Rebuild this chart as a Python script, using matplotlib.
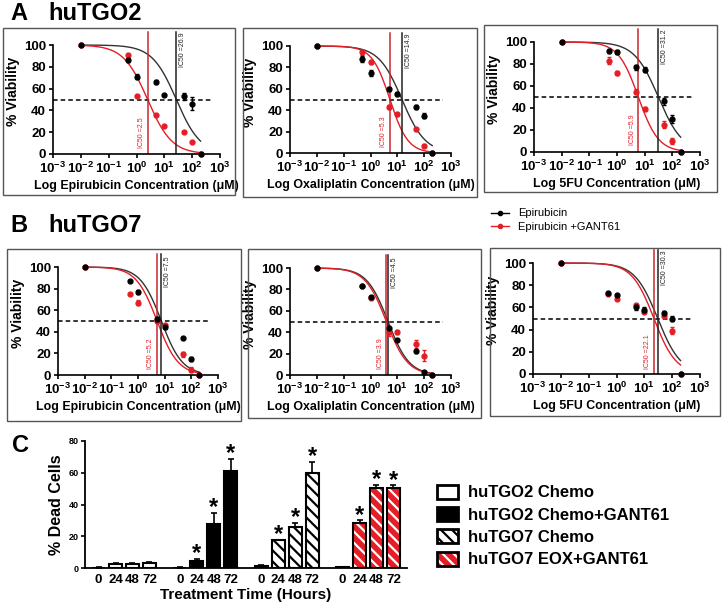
import numpy as np
import matplotlib
matplotlib.use("Agg")
import matplotlib.pyplot as plt
from matplotlib.patches import Rectangle, Patch
from matplotlib.lines import Line2D
from matplotlib.legend_handler import HandlerTuple
from matplotlib.ticker import NullLocator

plt.rcParams["font.family"] = ["Liberation Sans", "DejaVu Sans"]
plt.rcParams["font.weight"] = "bold"
plt.rcParams["axes.labelweight"] = "bold"
plt.rcParams["mathtext.fontset"] = "custom"
for k in ("rm", "it", "bf", "sf"):
    plt.rcParams["mathtext." + k] = "Liberation Sans:bold"
plt.rcParams["hatch.linewidth"] = 1.6

RED = "#e41e26"

# ---- dose response data (A: huTGO2, B: huTGO7) ----
conc = [0.01, 0.5, 1, 5, 10, 50, 100, 200]
drugs = ["Epirubicin", "Oxaliplatin", "5FU"]

a_black = [[100, 86, 71, 66, 54, 53, 46, 0],
           [100, 88, 75, 60, 55, 43, 35, 0],
           [100, 92, 91, 77, 75, 46, 30, 0]]
a_black_err = [[0, 2, 2, 2, 1, 3, 6, 0],
               [0, 3, 3, 2, 2, 2, 2, 0],
               [0, 2, 2, 2, 2, 3, 4, 0]]
a_red = [[100, 91, 53, 36, 26, 20, 11, 0],
         [100, 94, 85, 43, 36, 22, 7, 0],
         [100, 83, 72, 55, 39, 25, 10, 0]]
a_red_err = [[0, 1, 1, 1, 1, 1, 1, 0],
             [0, 2, 2, 2, 1, 1, 1, 0],
             [0, 3, 2, 2, 2, 3, 3, 0]]
a_ic50 = [(26.9, 2.5), (14.9, 5.3), (31.2, 5.9)]
a_hill = [(1.0, 1.0), (1.0, 1.3), (1.0, 1.2)]

b_black = [[100, 87, 77, 52, 44, 34, 15, 0],
           [100, 83, 73, 44, 33, 22, 3, 0],
           [100, 73, 71, 60, 58, 55, 50, 0]]
b_black_err = [[0, 1, 2, 2, 1, 1, 2, 0],
               [0, 1, 1, 1, 1, 1, 1, 0],
               [0, 1, 1, 2, 2, 2, 2, 0]]
b_red = [[100, 75, 67, 50, 46, 19, 5, 0],
         [100, 83, 72, 40, 40, 29, 18, 0],
         [100, 72, 68, 62, 56, 52, 39, 0]]
b_red_err = [[0, 1, 2, 2, 1, 2, 2, 0],
             [0, 1, 1, 4, 2, 4, 5, 0],
             [0, 1, 1, 1, 1, 1, 3, 0]]
b_ic50 = [(7.5, 5.2), (4.5, 3.9), (30.3, 22.1)]
b_hill = [(1.1, 1.1), (1.1, 1.1), (1.05, 1.1)]

# ---- panel C data ----
times = ["0", "24", "48", "72"]
groups = ["huTGO2 Chemo", "huTGO2 Chemo+GANT61", "huTGO7 Chemo", "huTGO7 EOX+GANT61"]
dead = [[0.3, 2.5, 2.5, 3.0],
        [0.3, 4.5, 27.5, 61.0],
        [1.5, 17.5, 26.0, 60.0],
        [0.5, 28.5, 50.5, 50.5]]
dead_err = [[0.1, 0.5, 0.6, 0.5],
            [0.1, 1.2, 7.0, 7.5],
            [0.4, 0.4, 2.5, 7.0],
            [0.1, 1.5, 2.0, 1.5]]
signif = [[0, 0, 0, 0], [0, 1, 1, 1], [0, 1, 1, 1], [0, 1, 1, 1]]

W, H = 725, 609
fig = plt.figure(figsize=(W / 100, H / 100), dpi=100)


def frect(x0, y0, x1, y1):
    return [x0 / W, 1 - y1 / H, (x1 - x0) / W, (y1 - y0) / H]


YTOP = 114


def dose_panel(box, xl, xr, y100, y0, drug, blk, blk_err, red, red_err, ic50, hill):
    fig.add_artist(Rectangle((box[0] / W, 1 - box[3] / H), (box[2] - box[0]) / W,
                             (box[3] - box[1]) / H, transform=fig.transFigure,
                             fill=False, ec="#555555", lw=1))
    ppu = (y0 - y100) / 100
    ax = fig.add_axes(frect(xl, y0 - YTOP * ppu, xr, y0))
    ax.set_xscale("log")
    ax.set_xlim(1e-3, 1e3)
    ax.set_ylim(0, YTOP)
    ax.patch.set_alpha(0)

    xs = np.logspace(-2, np.log10(200), 200)
    for ic, h, col in [(ic50[0], hill[0], "#333333"), (ic50[1], hill[1], RED)]:
        ax.plot(xs, 100 / (1 + (xs / ic) ** h), color=col, lw=1)
    ax.plot([1e-3, 5e2], [50, 50], color="black", lw=1.1, ls=(0, (3, 2)))
    ax.plot([ic50[0]] * 2, [0, 112], color="#222222", lw=1.1)
    ax.plot([ic50[1]] * 2, [0, 112], color="#c8282e", lw=1.1)

    ax.errorbar(conc, red, yerr=red_err, fmt="o", ms=3.5, color=RED,
                capsize=1.5, elinewidth=1, clip_on=False, zorder=4)
    ax.errorbar(conc, blk, yerr=blk_err, fmt="o", ms=3.5, color="black",
                capsize=1.5, elinewidth=1, clip_on=False, zorder=5)

    ax.annotate(f"IC50 ={ic50[1]}", xy=(ic50[1], 20), xytext=(-2, 0),
                textcoords="offset points", rotation=90, ha="right", va="center",
                fontsize=5, color=RED, fontweight="normal")
    ax.annotate(f"IC50 ={ic50[0]}", xy=(ic50[0], 96), xytext=(2, 0),
                textcoords="offset points", rotation=90, ha="left", va="center",
                fontsize=5, color="#222222", fontweight="normal")

    for s in ("top", "right"):
        ax.spines[s].set_visible(False)
    ax.spines["left"].set_bounds(0, 100)
    for s in ("left", "bottom"):
        ax.spines[s].set_linewidth(1.2)
    ax.set_yticks([0, 20, 40, 60, 80, 100])
    ax.set_xticks([10.0 ** k for k in range(-3, 4)])
    ax.set_xticklabels([r"$\mathbf{10^{%d}}$" % k for k in range(-3, 4)])
    ax.xaxis.set_minor_locator(NullLocator())
    ax.tick_params(labelsize=9.5, width=1.2, length=3, pad=2)
    ax.set_ylabel("% Viability", fontsize=10, labelpad=3)
    ax.set_xlabel(f"Log {drug} Concentration (μM)", fontsize=8.9, labelpad=3)


a_layout = [((3, 28, 235, 195), 53, 220, 45, 154),
            ((243, 28, 477, 197), 290, 451, 46, 153),
            ((484, 25, 717, 192), 534, 700, 42, 152)]
b_layout = [((7, 249, 241, 421), 58, 218, 267, 375),
            ((248, 249, 481, 418), 290, 451, 268, 375),
            ((490, 248, 720, 416), 533, 700, 263, 374)]

for i in range(3):
    dose_panel(*a_layout[i], drugs[i], a_black[i], a_black_err[i], a_red[i],
               a_red_err[i], a_ic50[i], a_hill[i])
    dose_panel(*b_layout[i], drugs[i], b_black[i], b_black_err[i], b_red[i],
               b_red_err[i], b_ic50[i], b_hill[i])

fig.text(10 / W, 1 - 14 / H, "A", fontsize=17, va="center")
fig.text(48 / W, 1 - 14 / H, "huTGO2", fontsize=17, va="center")
fig.text(10 / W, 1 - 226 / H, "B", fontsize=17, va="center")
fig.text(48 / W, 1 - 226 / H, "huTGO7", fontsize=17, va="center")
fig.text(12 / W, 1 - 445 / H, "C", fontsize=17, va="center")

fig.legend(handles=[Line2D([], [], color="black", marker="o", ms=3, lw=1),
                    Line2D([], [], color=RED, marker="o", ms=3, lw=1)],
           labels=["Epirubicin", "Epirubicin +GANT61"], loc="upper left",
           bbox_to_anchor=(487 / W, 1 - 204 / H), frameon=False,
           prop={"size": 8, "weight": "normal"}, handlelength=1.6,
           handletextpad=0.8, labelspacing=0.35, borderaxespad=0)

# ---- panel C ----
axc = fig.add_axes(frect(85, 441, 407, 568))
GAP = 4.8
w = 0.76
pos_all, lab_all = [], []
for g in range(4):
    pos = [g * GAP + i for i in range(4)]
    pos_all += pos
    lab_all += times
    v, e = dead[g], dead_err[g]
    axc.errorbar(pos, v, yerr=[np.zeros(4), e], fmt="none", ecolor="black",
                 elinewidth=1.2, capsize=2.5, capthick=1.2, zorder=1)
    if g == 0:
        axc.bar(pos, v, w, color="white", edgecolor="black", lw=1.5, zorder=2)
    elif g == 1:
        axc.bar(pos, v, w, color="black", edgecolor="black", lw=1.5, zorder=2)
    elif g == 2:
        axc.bar(pos, v, w, color="white", edgecolor="black", hatch="\\\\\\",
                lw=1.5, zorder=2)
    else:
        axc.bar(pos, v, w, color=RED, edgecolor="white", hatch="\\\\\\",
                lw=0, zorder=2)
        axc.bar(pos, v, w, fill=False, edgecolor="black", lw=1.5, zorder=3)
    for p, vv, ee, s in zip(pos, v, e, signif[g]):
        if s:
            axc.annotate("*", xy=(p, vv + ee), xytext=(0, -4.5),
                         textcoords="offset points", ha="center", va="bottom",
                         fontsize=17, annotation_clip=False)

axc.set_xlim(-0.8, 18.2)
axc.set_ylim(0, 80)
axc.set_yticks([0, 20, 40, 60, 80])
axc.set_xticks(pos_all)
axc.set_xticklabels(lab_all)
axc.tick_params(axis="x", length=0, labelsize=9.5, pad=4)
axc.tick_params(axis="y", labelsize=6.5, width=1.2, length=3, pad=1.5)
for s in ("top", "right"):
    axc.spines[s].set_visible(False)
for s in ("left", "bottom"):
    axc.spines[s].set_linewidth(1.3)
axc.set_ylabel("% Dead Cells", fontsize=11.5, labelpad=3)
axc.set_xlabel("Treatment Time (Hours)", fontsize=11, labelpad=2)

handles = [Patch(fc="white", ec="black", lw=2),
           Patch(fc="black", ec="black", lw=2),
           Patch(fc="white", ec="black", hatch="\\\\\\", lw=2),
           (Patch(fc=RED, ec="white", hatch="\\\\\\", lw=0),
            Patch(fill=False, ec="black", lw=2))]
fig.legend(handles=handles, labels=groups, loc="upper left",
           bbox_to_anchor=(430 / W, 1 - 478 / H), frameon=False,
           prop={"size": 12, "weight": "bold"}, handlelength=1.3,
           handleheight=0.9, labelspacing=0.4, handletextpad=0.6,
           borderaxespad=0, handler_map={tuple: HandlerTuple(ndivide=1, pad=0)})

fig.savefig("out.png", dpi=100)
